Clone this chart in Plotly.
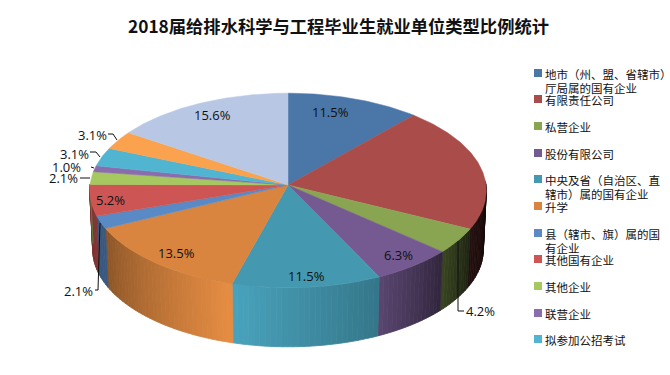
import numpy as np
import plotly.graph_objects as go

# ---- data ----
categories = ["地市（州、盟、省辖市）厅局属的国有企业", "有限责任公司", "私营企业", "股份有限公司",
              "中央及省（自治区、直辖市）属的国有企业", "升学", "县（辖市、旗）属的国有企业",
              "其他国有企业", "其他企业", "联营企业", "拟参加公招考试", "其他", "待就业"]
values = [11.5, 20.8, 4.2, 6.3, 11.5, 13.5, 2.1, 5.2, 2.1, 1.0, 3.1, 3.1, 15.6]
value_labels = ["11.5%", "", "4.2%", "6.3%", "11.5%", "13.5%", "2.1%", "5.2%", "2.1%", "1.0%", "3.1%", "3.1%", "15.6%"]
colors = ["#4a76a8", "#a94c4a", "#8aa552", "#745a90", "#4498b0", "#d9853f", "#5a8ac6",
          "#cd5655", "#a5c860", "#8b6cad", "#51b5d2", "#fba24f", "#b8c8e4"]

# legend rows as drawn (each row's wrapped lines)
legend_lines = [["地市（州、盟、省辖市）", "厅局属的国有企业"], ["有限责任公司"], ["私营企业"], ["股份有限公司"],
                ["中央及省（自治区、直", "辖市）属的国有企业"], ["升学"], ["县（辖市、旗）属的国", "有企业"],
                ["其他国有企业"], ["其他企业"], ["联营企业"], ["拟参加公招考试"]]

# ---- style / layout ----
CX, CY = 288.0, 185.0
RX, S, K = 198.0, 97.0, 0.0564
WALL_H, BOTTOM_SHRINK = 59.0, 0.985
shade_angles = [90, 116, 131, 154, 195, 244, 270]
shade_levels = [.12, .22, .42, .78, 1.07, .65, .60]
label_pos = [(330, 112), None, (480, 311), (398, 255), (306, 276), (176, 253), (78, 291),
             (110, 200), (63, 178), (66, 167), (74, 154), (92, 135), (212, 115)]
leaders = [None, None, [(458, 241), (458, 311), (464, 311)], None, None, None,
           [(100, 223), (98, 290), (95, 290)], None, [(90, 178), (80, 178)], [(94, 168), (91, 167)],
           [(100, 157), (96, 152), (90, 152)], [(117, 140), (113, 134), (108, 134)], None]
LABEL_FONT = "Open Sans"
CJK = "Noto Sans CJK SC"


def project(theta_deg):
    t = np.radians(theta_deg)
    u, v = np.sin(t), np.cos(t)
    w = 1 + K * v
    return CX + RX * u / w, CY - S * v / w


def shade(hex_color, level):
    rgb = [int(hex_color[i:i + 2], 16) for i in (1, 3, 5)]
    return "rgb(%d,%d,%d)" % tuple(min(255, int(c * level)) for c in rgb)


bounds = np.concatenate([[0], np.cumsum(values)]) / sum(values) * 360
fig = go.Figure()

# side wall, drawn as thin strips for the shading
for i, col in enumerate(colors):
    a0, a1 = max(bounds[i], 88), min(bounds[i + 1], 270.5)
    if a1 <= a0:
        continue
    edges = np.linspace(a0, a1, max(2, int((a1 - a0) / 1.5) + 1))
    for e0, e1 in zip(edges[:-1], edges[1:]):
        ang = np.linspace(e0, e1, 3)
        x, y = project(ang)
        xb = CX + (x - CX) * BOTTOM_SHRINK
        yb = y + WALL_H
        c = shade(col, float(np.interp((e0 + e1) / 2, shade_angles, shade_levels)))
        fig.add_trace(go.Scatter(x=np.r_[x, xb[::-1], x[0]], y=np.r_[y, yb[::-1], y[0]], mode="lines",
                                 fill="toself", fillcolor=c, line=dict(color=c, width=0.8),
                                 hoverinfo="skip", showlegend=False))

# top face
for i, col in enumerate(colors):
    ang = np.linspace(bounds[i], bounds[i + 1], max(3, int((bounds[i + 1] - bounds[i]) * 1.5)))
    x, y = project(ang)
    fig.add_trace(go.Scatter(x=np.r_[CX, x, CX], y=np.r_[CY, y, CY], mode="lines", fill="toself",
                             fillcolor=col, line=dict(color=col, width=0.5), name=categories[i],
                             hoverinfo="name", showlegend=False))

# leader lines
for pts in leaders:
    if pts:
        xs, ys = zip(*pts)
        fig.add_trace(go.Scatter(x=xs, y=ys, mode="lines", line=dict(color="#111111", width=1),
                                 hoverinfo="skip", showlegend=False))

ann = [dict(x=338, y=25, text="<b>2018届给排水科学与工程毕业生就业单位类型比例统计</b>", showarrow=False,
            font=dict(family=CJK, size=17.3, color="#111111"))]
for txt, pos in zip(value_labels, label_pos):
    if txt:
        ann.append(dict(x=pos[0], y=pos[1], text=txt, showarrow=False,
                        font=dict(family=LABEL_FONT, size=13, color="#111111")))

shapes = []
row_ys = [73, 99, 126, 153, 179, 206, 233, 259, 286, 313, 339]
for lines, ry, col in zip(legend_lines, row_ys, colors):
    shapes.append(dict(type="rect", x0=534, x1=542, y0=ry - 4, y1=ry + 4, fillcolor=col, line=dict(width=0)))
    for j, line in enumerate(lines):
        ann.append(dict(x=543, y=ry + 1 + 14 * j, text=line, showarrow=False, xanchor="left",
                        font=dict(family=CJK, size=11.5, color="#111111")))

fig.update_layout(width=670, height=375, margin=dict(l=0, r=0, t=0, b=0), paper_bgcolor="white",
                  plot_bgcolor="white", showlegend=False, annotations=ann, shapes=shapes,
                  xaxis=dict(visible=False, range=[0, 670], fixedrange=True),
                  yaxis=dict(visible=False, range=[375, 0], fixedrange=True))
fig.write_html("out.html", config={"displayModeBar": False},
               post_script="document.body.style.margin='0';document.body.style.overflow='hidden';")
